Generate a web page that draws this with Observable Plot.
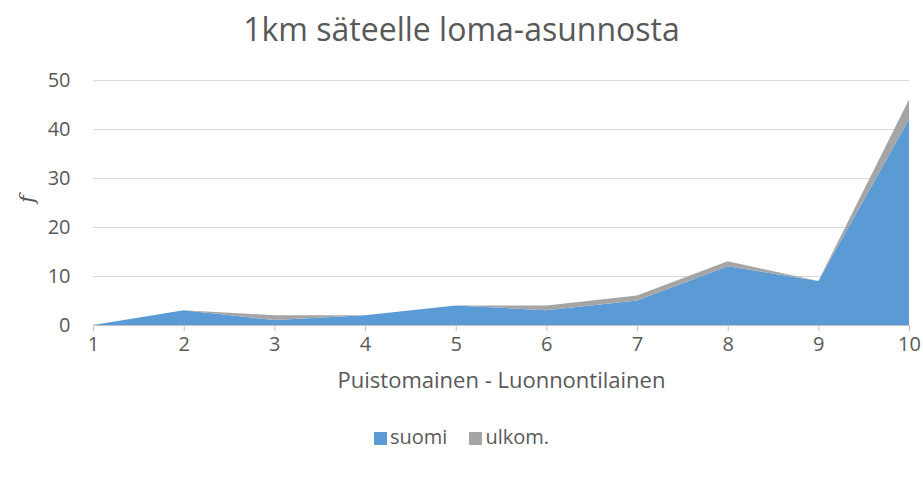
<!DOCTYPE html>
<html><head><meta charset="utf-8">
<script src="https://cdn.jsdelivr.net/npm/d3@7"></script>
<script src="https://cdn.jsdelivr.net/npm/@observablehq/plot@0.6"></script>
<style>
body{margin:0;background:#fff;font-family:"Open Sans",sans-serif;color:#595959;}
#wrap{width:923px;height:477px;position:relative;}
#title{height:60px;line-height:58px;text-align:center;font-size:32px;color:#595959;}
#legend{position:absolute;top:423px;left:0;width:923px;text-align:center;font-size:20px;color:#595959;}
#legend span.sw{display:inline-block;width:13px;height:13px;margin-right:3px;vertical-align:-1px;}
#legend span.it{margin:0 11px;}
</style></head><body>
<div id="wrap">
<div id="title">1km säteelle loma-asunnosta</div>
<div id="chart"></div>
<div id="legend"></div>
</div>
<script>
const categories = [1,2,3,4,5,6,7,8,9,10];
const suomi = [0,3,1,2,4,3,5,12,9,42];
const ulkom = [0,0,1,0,0,1,1,1,0,4];
const seriesNames = ["suomi","ulkom."];
const colors = ["#5B9BD5","#A5A5A5"];
const yTicks = [0,10,20,30,40,50];

const data = [];
categories.forEach((c,i)=>{
  data.push({x:c, y:suomi[i], s:"suomi"});
  data.push({x:c, y:ulkom[i], s:"ulkom."});
});

const chart = Plot.plot({
  width:923, height:340,
  marginLeft:93, marginRight:14, marginTop:20, marginBottom:75,
  style:{fontFamily:"'Open Sans', sans-serif", fontSize:"20px", color:"#595959", background:"#fff", overflow:"visible"},
  x:{domain:[1,10], ticks:categories, label:null},
  y:{domain:[0,50], ticks:yTicks, label:null},
  color:{domain:seriesNames, range:colors},
  marks:[
    Plot.gridY(yTicks.filter(d=>d>0), {stroke:"#d9d9d9", strokeOpacity:1, strokeWidth:1}),
    Plot.areaY(data, {x:"x", y:"y", z:"s", fill:"s", order:seriesNames, fillOpacity:1}),
    Plot.ruleY([0], {stroke:"#bfbfbf", strokeWidth:1}),
    Plot.axisY(yTicks, {tickSize:0, tickPadding:23, fontSize:20, fill:"#595959"}),
    Plot.axisX(categories, {tickSize:6, stroke:"#bfbfbf", tickPadding:5, fontSize:20, fill:"#595959"}),
    Plot.text(["Puistomainen - Luonnontilainen"], {frameAnchor:"bottom", dy:62, fontSize:22, fill:"#595959"}),
    Plot.text(["f"], {frameAnchor:"left", dx:-66, rotate:-90, fontSize:21, fontStyle:"italic", fontFamily:"DejaVu Serif", fill:"#595959"})
  ]
});
document.getElementById("chart").appendChild(chart);

const lg = document.getElementById("legend");
seriesNames.forEach((n,i)=>{
  const it = document.createElement("span"); it.className="it";
  const sw = document.createElement("span"); sw.className="sw"; sw.style.background=colors[i];
  it.appendChild(sw); it.appendChild(document.createTextNode(n));
  lg.appendChild(it);
});
</script>
</body></html>
